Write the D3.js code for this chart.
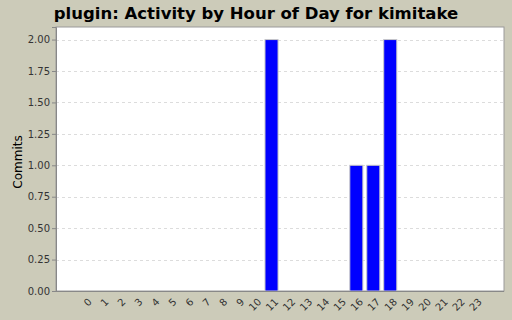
<!DOCTYPE html>
<html lang="en">
<head>
<meta charset="utf-8">
<title>Activity by Hour of Day</title>
<script src="https://d3js.org/d3.v7.min.js"></script>
<style>
  body { margin: 0; background: #cccbb9; }
  svg { display: block; font-family: "DejaVu Sans", sans-serif; }
</style>
</head>
<body>
<div id="chart"></div>
<script>
// data
var hours = ["0","1","2","3","4","5","6","7","8","9","10","11","12","13","14","15","16","17","18","19","20","21","22","23"];
var commits = [0,0,0,0,0,0,0,0,0,0,0,2,0,0,0,0,1,1,2,0,0,0,0,0];
var yTicks = [0, 0.25, 0.5, 0.75, 1, 1.25, 1.5, 1.75, 2];

var w = 512, h = 320;
var plot = {left: 56, top: 27, right: 504, bottom: 291};
var pw = plot.right - plot.left;

var svg = d3.select("#chart").append("svg")
    .attr("width", w)
    .attr("height", h);

svg.append("rect").attr("width", w).attr("height", h).attr("fill", "#cccbb9");

// title
svg.append("text")
    .attr("x", 256)
    .attr("y", 19)
    .attr("text-anchor", "middle")
    .attr("font-size", 16.5)
    .attr("font-weight", "bold")
    .attr("fill", "#000")
    .text("plugin: Activity by Hour of Day for kimitake");

// scales (5% margin each side like the original)
var xScale = d3.scaleBand()
    .domain(hours)
    .range([plot.left + pw * 0.05, plot.right - pw * 0.05])
    .paddingInner(0.23)
    .paddingOuter(0);

var yScale = d3.scaleLinear()
    .domain([0, 2.1])
    .range([plot.bottom, plot.top]);

// plot background
svg.append("rect")
    .attr("x", plot.left).attr("y", plot.top)
    .attr("width", pw).attr("height", plot.bottom - plot.top)
    .attr("fill", "#fff")
    .attr("stroke", "#9a9a9a");

// grid
svg.append("g").selectAll("line")
    .data(yTicks.slice(1))
    .enter().append("line")
    .attr("x1", plot.left).attr("x2", plot.right)
    .attr("y1", d => Math.round(yScale(d)) + 0.5)
    .attr("y2", d => Math.round(yScale(d)) + 0.5)
    .attr("stroke", "#dcdcdc")
    .attr("stroke-dasharray", "3,3");

// bars (only non-zero hours)
var barData = hours.map((hr, i) => ({hour: hr, value: commits[i]}))
    .filter(d => d.value > 0);

svg.append("g").selectAll("rect")
    .data(barData)
    .enter().append("rect")
    .attr("x", d => xScale(d.hour))
    .attr("y", d => yScale(d.value))
    .attr("width", xScale.bandwidth())
    .attr("height", d => plot.bottom - yScale(d.value))
    .attr("fill", "#0000ff")
    .attr("stroke", "#c8c8c8")
    .attr("stroke-width", 1);

// y axis
var yAxis = d3.axisLeft(yScale)
    .tickValues(yTicks)
    .tickFormat(d3.format(".2f"))
    .tickSize(4)
    .tickPadding(2);

var gy = svg.append("g")
    .attr("transform", `translate(${plot.left},0)`)
    .call(yAxis);
gy.select(".domain").attr("stroke", "#888");
gy.selectAll(".tick line").attr("stroke", "#888");
gy.selectAll(".tick text").attr("font-size", 10).attr("fill", "#333")
    .attr("font-family", "DejaVu Sans, sans-serif");

// x axis
var xAxis = d3.axisBottom(xScale).tickSize(0).tickPadding(0);
var gx = svg.append("g")
    .attr("transform", `translate(0,${plot.bottom})`)
    .call(xAxis);
gx.select(".domain").attr("stroke", "#888").attr("d", `M${plot.left},0.5H${plot.right}`);
gx.selectAll(".tick text")
    .attr("font-size", 10)
    .attr("fill", "#333")
    .attr("font-family", "DejaVu Sans, sans-serif")
    .attr("text-anchor", "end")
    .attr("x", 0).attr("y", 0).attr("dy", "0.35em")
    .attr("transform", "translate(5,9) rotate(-45)");

// y label
svg.append("text")
    .attr("transform", `translate(22,162) rotate(-90)`)
    .attr("text-anchor", "middle")
    .attr("font-size", 12)
    .attr("fill", "#000")
    .text("Commits");
</script>
</body>
</html>
